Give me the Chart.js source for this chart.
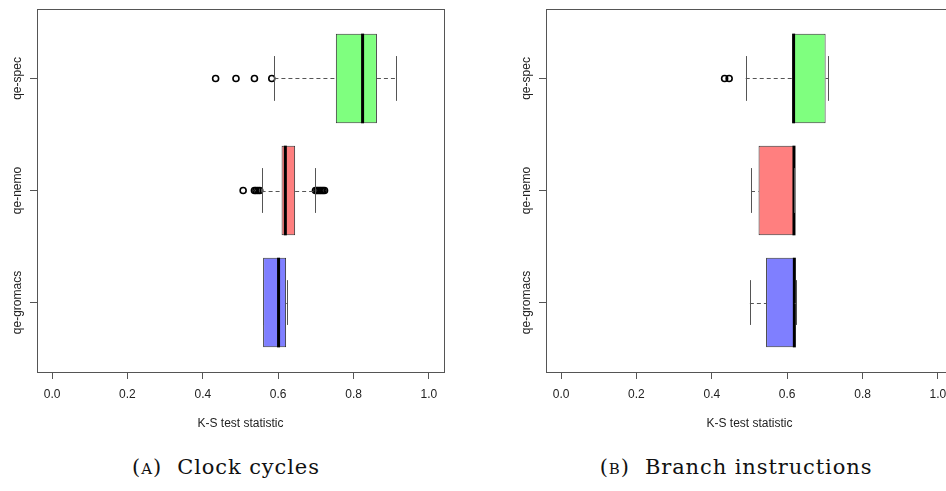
<!DOCTYPE html>
<html>
<head>
<meta charset="utf-8">
<script src="https://cdn.jsdelivr.net/npm/chart.js@4.4.1/dist/chart.umd.min.js"></script>
<style>
  html, body { margin: 0; padding: 0; background: #fff; overflow: hidden; width: 946px; height: 491px; }
  .panel { position: absolute; top: 0; width: 480px; height: 440px; }
  .caption { position: absolute; top: 455px; font-family: "DejaVu Serif", serif; font-size: 21px; letter-spacing: 0.9px; color: #111; white-space: nowrap; transform: translateX(-50%); }
  .sc { font-variant: small-caps; }
</style>
</head>
<body>
<div class="panel" style="left:0"><canvas id="clock-chart" width="480" height="440"></canvas></div>
<div class="panel" style="left:509px"><canvas id="branch-chart" width="480" height="440"></canvas></div>
<div class="caption" style="left:226px">(<span class="sc">a</span>)&nbsp; Clock cycles</div>
<div class="caption" style="left:736px">(<span class="sc">b</span>)&nbsp; Branch instructions</div>

<script>
// groups from bottom (1) to top (3), as R draws them
const groupLabels = ['qe-gromacs', 'qe-nemo', 'qe-spec'];
const groupPositions = [1, 2, 3];
const xTickValues = [0, 0.2, 0.4, 0.6, 0.8, 1.0];
const boxColors = ['#7f7fff', '#ff7f7f', '#7fff7f'];

// (A) clock cycles
const clockLowWhisker = [0.560, 0.556, 0.590];
const clockQ1 = [0.560, 0.609, 0.753];
const clockMedian = [0.601, 0.619, 0.824];
const clockQ3 = [0.621, 0.645, 0.862];
const clockHighWhisker = [0.623, 0.697, 0.913];
const clockOutliers = [
    [],
    [0.507, 0.537, 0.541, 0.546, 0.551, 0.699, 0.703, 0.707, 0.711, 0.715, 0.719, 0.723],
    [0.434, 0.488, 0.537, 0.583]
];

// (B) branch instructions
const branchLowWhisker = [0.501, 0.504, 0.490];
const branchQ1 = [0.544, 0.524, 0.615];
const branchMedian = [0.619, 0.618, 0.617];
const branchQ3 = [0.620, 0.619, 0.702];
const branchHighWhisker = [0.624, 0.619, 0.709];
const branchOutliers = [
    [],
    [],
    [0.434, 0.446]
];

const lineColor = '#555555';
const textColor = '#222222';
const axisFont = { family: '"Liberation Sans", Arial, sans-serif', size: 12, lineHeight: 1.2 };

// medians, whiskers and staples, drawn over the boxes like R's bxp()
const boxplotPlugin = {
    id: 'boxplotPlugin',
    afterDatasetsDraw(chart, args, opts) {
        const { ctx, scales: { x, y } } = chart;
        ctx.save();
        groupPositions.forEach((pos, i) => {
            // median
            const xm = x.getPixelForValue(opts.median[i]);
            ctx.strokeStyle = '#000';
            ctx.lineWidth = 3;
            ctx.beginPath();
            ctx.moveTo(xm, y.getPixelForValue(pos - 0.4));
            ctx.lineTo(xm, y.getPixelForValue(pos + 0.4));
            ctx.stroke();

            // dashed whiskers
            const yc = Math.round(y.getPixelForValue(pos)) + 0.5;
            ctx.strokeStyle = lineColor;
            ctx.lineWidth = 1;
            ctx.setLineDash([4, 3]);
            ctx.beginPath();
            ctx.moveTo(x.getPixelForValue(opts.low[i]), yc);
            ctx.lineTo(x.getPixelForValue(opts.q1[i]), yc);
            ctx.moveTo(x.getPixelForValue(opts.q3[i]), yc);
            ctx.lineTo(x.getPixelForValue(opts.high[i]), yc);
            ctx.stroke();

            // staples
            ctx.setLineDash([]);
            const ys0 = y.getPixelForValue(pos - 0.2);
            const ys1 = y.getPixelForValue(pos + 0.2);
            ctx.beginPath();
            [opts.low[i], opts.high[i]].forEach(v => {
                const xs = Math.round(x.getPixelForValue(v)) + 0.5;
                ctx.moveTo(xs, ys0);
                ctx.lineTo(xs, ys1);
            });
            ctx.stroke();
        });
        ctx.restore();
    },
    afterDraw(chart) {
        const { ctx, chartArea: a, scales: { y } } = chart;
        ctx.save();
        // frame round the plot region
        ctx.strokeStyle = lineColor;
        ctx.lineWidth = 1;
        ctx.strokeRect(Math.round(a.left) + 0.5, Math.round(a.top) + 0.5, Math.round(a.right - a.left), Math.round(a.bottom - a.top));
        // rotated group labels
        ctx.fillStyle = textColor;
        ctx.font = '12px "Liberation Sans", Arial, sans-serif';
        ctx.textAlign = 'center';
        ctx.textBaseline = 'middle';
        groupPositions.forEach((pos, i) => {
            ctx.save();
            ctx.translate(18, y.getPixelForValue(pos));
            ctx.rotate(-Math.PI / 2);
            ctx.fillText(groupLabels[i], 0, 0);
            ctx.restore();
        });
        ctx.restore();
    }
};

function buildBoxplotChart(canvasId, low, q1, median, q3, high, outliers) {
    const boxData = groupPositions.map((pos, i) => ({ y: pos, x: [q1[i], q3[i]] }));
    const outlierData = [];
    outliers.forEach((list, i) => list.forEach(v => outlierData.push({ x: v, y: groupPositions[i] })));

    return new Chart(document.getElementById(canvasId), {
        type: 'scatter',
        data: {
            datasets: [
                {
                    type: 'bar',
                    indexAxis: 'y',
                    data: boxData,
                    backgroundColor: boxColors,
                    borderColor: '#333333',
                    borderWidth: 1,
                    borderSkipped: false,
                    barPercentage: 1,
                    categoryPercentage: 0.8,
                    order: 2
                },
                {
                    type: 'scatter',
                    data: outlierData,
                    pointStyle: 'circle',
                    pointRadius: 3,
                    pointBorderWidth: 1.6,
                    pointBorderColor: '#000',
                    pointBackgroundColor: 'rgba(0,0,0,0)',
                    order: 1
                }
            ]
        },
        options: {
            responsive: false,
            animation: false,
            events: [],
            layout: { padding: { left: 0, top: 9, right: 36, bottom: 0 } },
            plugins: {
                legend: { display: false },
                tooltip: { enabled: false },
                boxplotPlugin: { low, q1, median, q3, high }
            },
            scales: {
                x: {
                    type: 'linear',
                    min: -0.04,
                    max: 1.04,
                    offset: false,
                    afterBuildTicks: (scale) => { scale.ticks = xTickValues.map(v => ({ value: v })); },
                    afterFit: (scale) => { scale.height = 68; },
                    border: { display: false },
                    grid: { offset: false, drawOnChartArea: false, drawTicks: true, tickLength: 7, tickColor: lineColor },
                    ticks: {
                        color: textColor,
                        font: axisFont,
                        padding: 8,
                        maxRotation: 0,
                        callback: (value) => value.toFixed(1)
                    },
                    title: { display: true, text: 'K-S test statistic', color: textColor, font: axisFont, padding: { top: 0, bottom: 9 } }
                },
                y: {
                    type: 'linear',
                    min: 0.38,
                    max: 3.62,
                    offset: false,
                    afterBuildTicks: (scale) => { scale.ticks = groupPositions.map(v => ({ value: v })); },
                    afterFit: (scale) => { scale.width = 37; },
                    border: { display: false },
                    grid: { offset: false, drawOnChartArea: false, drawTicks: true, tickLength: 7, tickColor: lineColor },
                    ticks: { display: false }
                }
            }
        },
        plugins: [boxplotPlugin]
    });
}

buildBoxplotChart('clock-chart', clockLowWhisker, clockQ1, clockMedian, clockQ3, clockHighWhisker, clockOutliers);
buildBoxplotChart('branch-chart', branchLowWhisker, branchQ1, branchMedian, branchQ3, branchHighWhisker, branchOutliers);
</script>
</body>
</html>
